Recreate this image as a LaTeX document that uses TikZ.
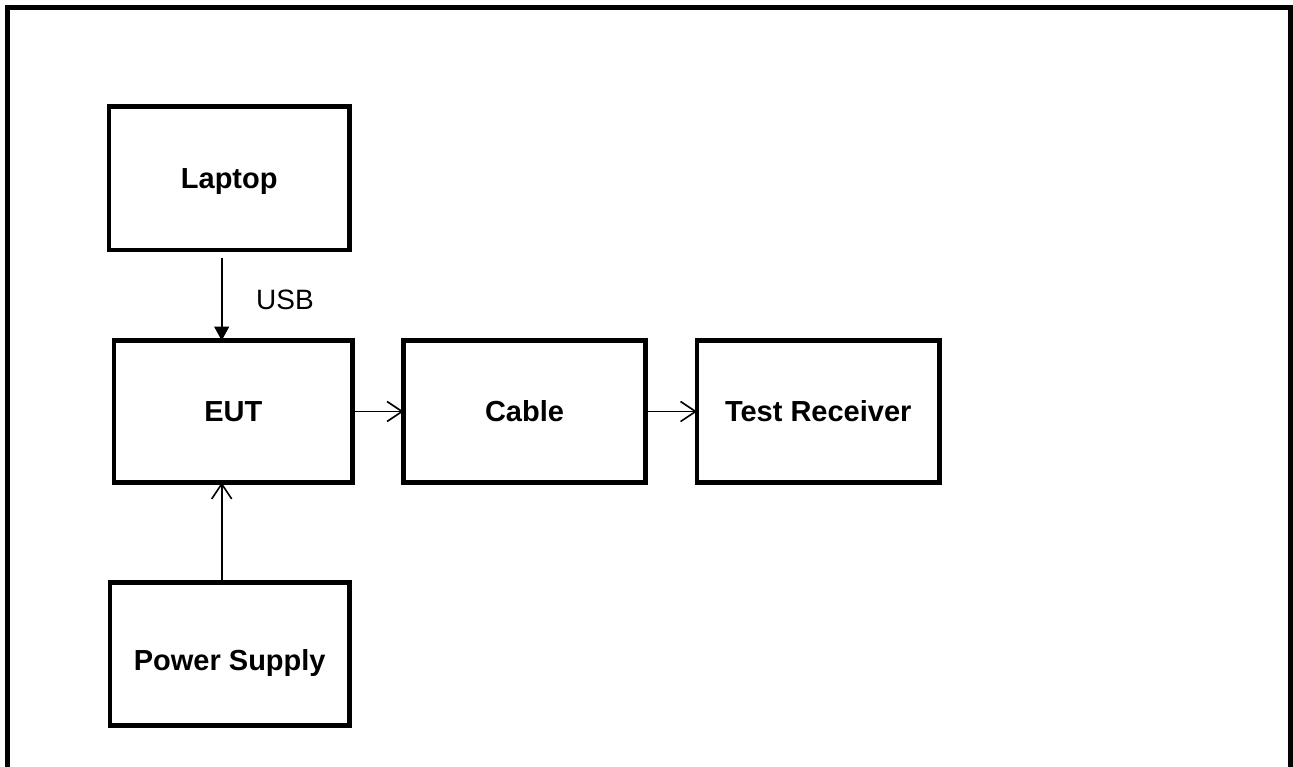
\documentclass[tikz,border=0pt]{standalone}
\usepackage{fontspec}
\setmainfont{Liberation Sans}
\usetikzlibrary{arrows.meta}
\begin{document}
\begin{tikzpicture}[x=1pt,y=-1pt,
  blk/.style={draw, line width=4.5pt, rectangle, inner sep=0pt, outer sep=0pt,
    font=\fontsize{29}{34}\selectfont\bfseries},
  conn/.style={line width=1.6pt},
  open/.style={conn, -{Straight Barb[length=15pt,width=20pt,line width=1.6pt]}},
  filled/.style={conn, -{Triangle[length=14pt,width=15pt]}},
  lbl/.style={font=\fontsize{28}{32}\selectfont, inner sep=0pt}]
\useasboundingbox (0,0) rectangle (1293,767);
\draw[line width=5pt] (7.5,7.5) rectangle (1290.5,769);
\node[blk, minimum width=240.5pt, minimum height=143.5pt] (laptop) at (229.25,178.25) {\raisebox{-10pt}[0pt][0pt]{Laptop}};
\node[blk, minimum width=238.5pt, minimum height=142pt] (eut) at (233.25,411.5) {\raisebox{-10pt}[0pt][0pt]{EUT}};
\node[blk, minimum width=242pt, minimum height=142pt] (cable) at (524.5,411.5) {\raisebox{-10pt}[0pt][0pt]{Cable}};
\node[blk, minimum width=242.5pt, minimum height=142pt] (rx) at (818.25,411.5) {\raisebox{-10pt}[0pt][0pt]{Test Receiver}};
\node[blk, minimum width=239.5pt, minimum height=143pt] (ps) at (229.75,654) {\raisebox{-16pt}[0pt][0pt]{Power Supply}};
\coordinate (ax) at (221.7,0);
\draw[filled, shorten <=8pt] (laptop.south -| ax) -- (eut.north -| ax);
\node[lbl] (usb) at (285,300) {USB};
\draw[open] (ps.north -| ax) -- (eut.south -| ax);
\draw[open] (eut.east) -- (cable.west);
\draw[open] (cable.east) -- (rx.west);
\end{tikzpicture}
\end{document}
